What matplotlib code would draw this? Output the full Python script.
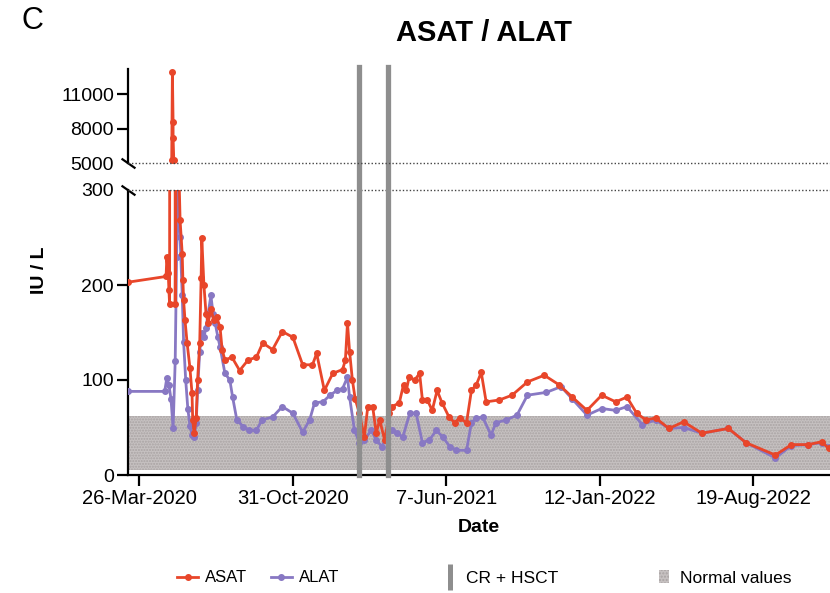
import numpy as np
import pandas as pd
import matplotlib
matplotlib.use('Agg')
from matplotlib import pyplot as plt
from matplotlib.lines import Line2D
from matplotlib.patches import Patch

plt.rcParams['font.family'] = ['Liberation Sans', 'DejaVu Sans']

# days counted from 26-Mar-2020 (first x tick)
start = pd.Timestamp('2020-03-26')

asat_day = [-16, 38, 39, 41, 42, 43, 46, 47, 48, 48, 49, 51, 53, 58, 61, 62, 63, 65, 68, 72,
            75, 76, 78, 81, 83, 86, 88, 89, 92, 95, 98, 102, 106, 110, 115, 118, 122, 132, 143, 155,
            167, 176, 190, 204, 219, 233, 247, 253, 264, 276, 290, 294, 297, 300, 304, 308, 314, 321, 326, 333,
            338, 343, 350, 357, 361, 371, 377, 381, 385, 393, 400, 404, 411, 418, 425, 432, 442, 450, 457, 467,
            474, 481, 488, 495, 514, 532, 554, 578, 599, 618, 639, 660, 680, 696, 710, 723, 737, 756, 777, 803,
            841, 866, 908, 931, 955, 974, 984]
asat_val = [203, 209, 229, 213, 195, 180, 5260, 12900, 8565, 7170, 5260, 180, 420, 268, 233, 205, 184, 163, 139, 113,
            86, 58, 44, 60, 100, 139, 207, 249, 200, 170, 160, 175, 163, 166, 156, 132, 121, 124, 110, 121,
            124, 139, 132, 151, 145, 116, 116, 128, 89, 107, 111, 121, 160, 130, 100, 80, 65, 40, 72, 72,
            44, 58, 37, 65, 72, 76, 95, 89, 103, 100, 107, 79, 79, 68, 89, 76, 61, 55, 60, 55,
            89, 95, 108, 77, 79, 84, 98, 105, 95, 82, 68, 84, 77, 82, 65, 58, 60, 49, 56, 44,
            49, 34, 21, 32, 32, 35, 28]

alat_day = [-16, 36, 39, 42, 45, 48, 51, 53, 55, 58, 61, 63, 66, 69, 72, 75, 78, 81, 83, 86,
            89, 92, 95, 98, 102, 105, 108, 112, 115, 122, 129, 133, 139, 148, 157, 167, 175, 190, 204, 219,
            233, 243, 250, 262, 272, 282, 290, 297, 300, 307, 314, 321, 331, 338, 346, 353, 361, 368, 376, 386,
            395, 404, 414, 424, 433, 443, 452, 467, 474, 481, 490, 502, 509, 524, 539, 554, 581, 602, 618, 639,
            660, 680, 696, 718, 737, 756, 777, 803, 841, 866, 908, 931, 955, 974, 984]
alat_val = [88, 88, 102, 95, 80, 49, 120, 230, 305, 250, 190, 140, 100, 70, 52, 42, 40, 55, 90, 130,
            150, 145, 155, 170, 189, 170, 160, 145, 135, 107, 100, 82, 58, 51, 47, 47, 58, 61, 72, 65,
            45, 58, 76, 77, 84, 89, 91, 103, 82, 47, 34, 37, 47, 37, 30, 40, 47, 44, 40, 65,
            65, 34, 37, 47, 40, 30, 26, 26, 55, 60, 61, 42, 55, 58, 63, 84, 87, 93, 80, 63,
            70, 68, 72, 53, 58, 49, 50, 44, 49, 34, 18, 31, 32, 34, 30]

hsct_day = [313, 355]
normal_range = (5, 62)

tick_day = [0, 219, 438, 657, 876]
tick_labels = ['26-Mar-2020', '31-Oct-2020', '7-Jun-2021', '12-Jan-2022', '19-Aug-2022']

asat_c = '#e8462a'
alat_c = '#8878c3'
hsct_c = '#8e8e8e'
band_c = '#c6c1c1'
band_dot = '#a9a3a3'

to_date = lambda d: start + pd.to_timedelta(d, unit='D')

fig = plt.figure(figsize=(8.3, 5.93), dpi=100)
ax = fig.add_axes([128/830, 1-475/593, 702/830, 285/593])
ax_top = fig.add_axes([128/830, 1-163/593, 702/830, 94/593], sharex=ax)
ax_top.patch.set_visible(False)

for a in (ax, ax_top):
    a.plot(to_date(alat_day), alat_val, color=alat_c, lw=2.0, marker='o', ms=4, zorder=3)
    a.plot(to_date(asat_day), asat_val, color=asat_c, lw=2.0, marker='o', ms=4, zorder=3.5)
    for s in ['top', 'right']:
        a.spines[s].set_visible(False)
    a.spines['left'].set_linewidth(1.6)
    a.tick_params(axis='y', labelsize=14, length=8, width=1.6, pad=2)

ax.axhspan(normal_range[0], normal_range[1], facecolor=band_c, edgecolor=band_dot,
           hatch='......', lw=0, zorder=1)

for d in hsct_day:
    ax.axvline(to_date(d), ymin=0, ymax=(475-67)/285, color=hsct_c, lw=3.8, clip_on=False, zorder=5)

ax.axhline(300, color='#444444', ls=(0, (1, 1.5)), lw=1, clip_on=False, zorder=4)
ax_top.axhline(5000, color='#444444', ls=(0, (1, 1.5)), lw=1, clip_on=False, zorder=4)

ax.set_ylim(0, 300)
ax.set_yticks([0, 100, 200, 300])
ax.yaxis.get_major_ticks()[-1].tick1line.set_visible(False)
ax_top.set_ylim(5000, 13200)
ax_top.set_yticks([5000, 8000, 11000])
ax_top.yaxis.get_major_ticks()[0].tick1line.set_visible(False)

ax_top.spines['bottom'].set_visible(False)
ax_top.tick_params(axis='x', bottom=False, labelbottom=False)

# break marks
brk = dict(marker=[(-1, 0.7), (1, -0.7)], ms=10, mew=1.6, color='k', ls='none', clip_on=False)
ax.plot([0], [1], transform=ax.transAxes, **brk)
ax_top.plot([0], [0], transform=ax_top.transAxes, **brk)

ax.spines['bottom'].set_linewidth(1.6)
ax.set_xlim(to_date(-16.4), to_date(986))
ax.set_xticks(to_date(tick_day))
ax.set_xticklabels(tick_labels)
ax.tick_params(axis='x', labelsize=14.5, length=8, width=1.6, pad=2)
ax.set_xlabel('Date', fontsize=14, fontweight='bold', labelpad=8)

fig.text(39/830, 1-270/593, 'IU / L', rotation=90, ha='center', va='center',
         fontsize=14, fontweight='bold')
fig.text(484/830, 1-33/593, 'ASAT / ALAT', ha='center', va='center', fontsize=21, fontweight='bold')
fig.text(32/830, 1-21/593, 'C', ha='center', va='center', fontsize=22)

h1 = [Line2D([], [], color=asat_c, lw=2.0, marker='o', ms=4),
      Line2D([], [], color=alat_c, lw=2.0, marker='o', ms=4)]
fig.legend(h1, ['ASAT', 'ALAT'], loc='center', bbox_to_anchor=(258/830, 1-578/593), ncol=2,
           frameon=False, fontsize=12, handlelength=1.3, handletextpad=0.4, columnspacing=1.4,
           numpoints=1)
h2 = [Line2D([], [], color=hsct_c, marker='|', ms=19, mew=3.6, ls='none'),
      Patch(facecolor=band_c, edgecolor=band_dot, hatch='.....', lw=0)]
fig.legend(h2, ['CR + HSCT', 'Normal values'], loc='center', bbox_to_anchor=(618/830, 1-578/593),
           ncol=2, frameon=False, fontsize=12.5, handlelength=0.6, handletextpad=0.6,
           columnspacing=5.8, numpoints=1)

fig.savefig('out.png', dpi=100)
